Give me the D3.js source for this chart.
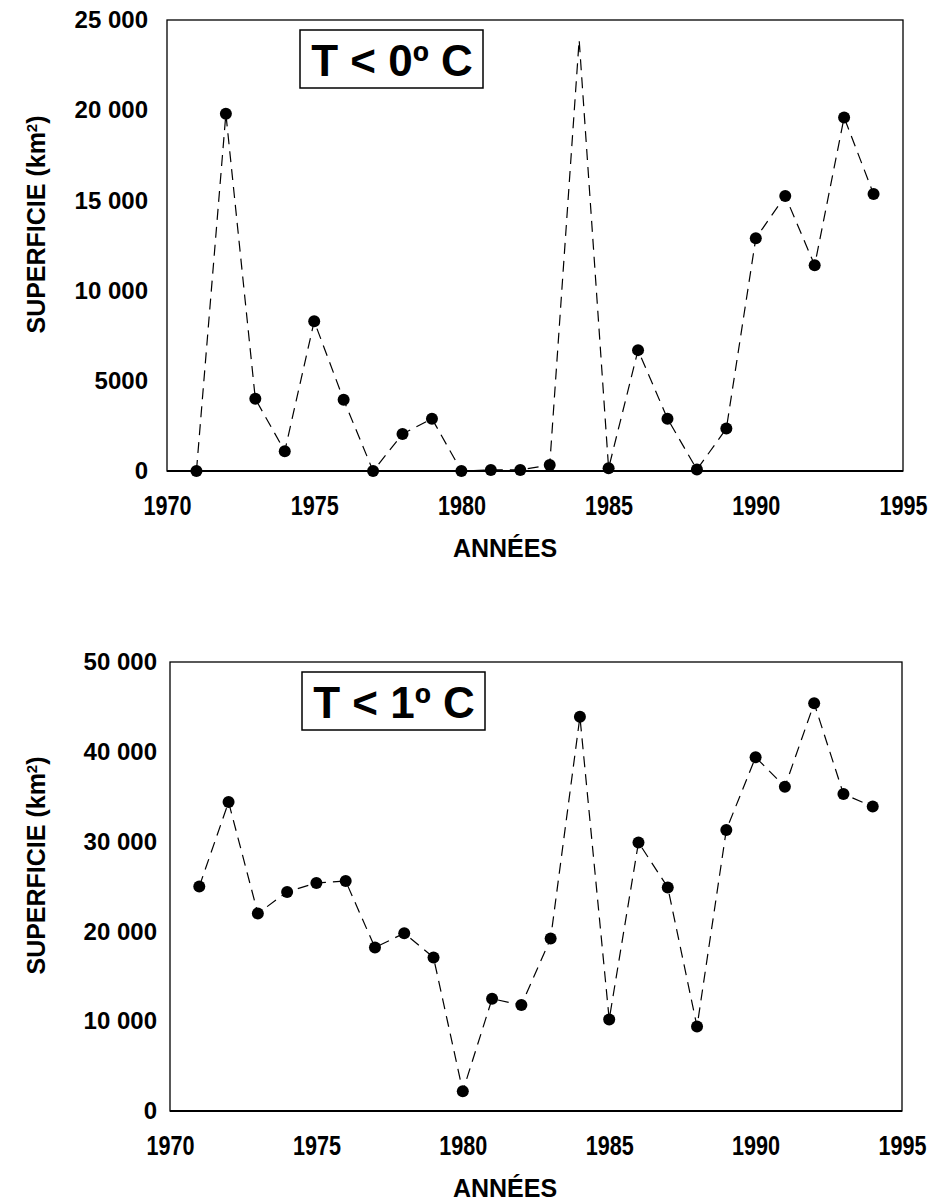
<!DOCTYPE html>
<html>
<head>
  <meta charset="utf-8">
  <title>Superficie</title>
  <script src="https://d3js.org/d3.v7.min.js"></script>
  <style>
    body { margin: 0; background: #fff; }
    text { font-family: "Liberation Sans", Arial, sans-serif; font-weight: bold; fill: #000; }
    .line { fill: none; stroke: #000; stroke-width: 1.2; stroke-dasharray: 11 7; }
  </style>
</head>
<body>
  <svg width="930" height="1204"></svg>
  <script>
    var years = [1971, 1972, 1973, 1974, 1975, 1976, 1977, 1978, 1979, 1980, 1981, 1982,
                 1983, 1984, 1985, 1986, 1987, 1988, 1989, 1990, 1991, 1992, 1993, 1994];

    // surface (km2) with T < 0 C
    var below0 = [0, 19800, 4000, 1100, 8300, 3950, 0, 2050, 2900, 0, 60, 60,
                  330, 23900, 150, 6700, 2900, 80, 2350, 12900, 15250, 11400, 19600, 15350];
    var below0NoMarker = [1984];

    // surface (km2) with T < 1 C
    var below1 = [25000, 34400, 22000, 24400, 25400, 25600, 18200, 19800, 17100, 2200, 12500, 11800,
                  19200, 43900, 10200, 29900, 24900, 9400, 31300, 39400, 36100, 45400, 35300, 33900];

    var xTicks = [1970, 1975, 1980, 1985, 1990, 1995];
    var yTicks0 = [0, 5000, 10000, 15000, 20000, 25000];
    var yTicks1 = [0, 10000, 20000, 30000, 40000, 50000];

    var svg = d3.select("svg");

    function fmt(v) {
      // "25 000" style, but 5000 written without a space
      if (v < 10000) return String(v);
      return d3.format(",")(v).replace(/,/g, " ");
    }

    function chart(opt) {
      var g = svg.append("g");
      var x = d3.scaleLinear().domain([1970, 1995]).range([opt.left, opt.right]);
      var y = d3.scaleLinear().domain([0, opt.yMax]).range([opt.bottom, opt.top]);

      // frame
      g.append("rect")
        .attr("x", opt.left).attr("y", opt.top)
        .attr("width", opt.right - opt.left).attr("height", opt.bottom - opt.top)
        .attr("fill", "none").attr("stroke", "#000").attr("stroke-width", 1.3);
      g.append("line")
        .attr("x1", opt.left).attr("x2", opt.right)
        .attr("y1", opt.bottom).attr("y2", opt.bottom)
        .attr("stroke", "#000").attr("stroke-width", 2.2);

      // y axis
      var ya = g.append("g")
        .attr("transform", "translate(" + opt.left + ",0)")
        .call(d3.axisLeft(y).tickValues(opt.yTicks).tickSize(0).tickPadding(opt.yPad).tickFormat(fmt));
      ya.select(".domain").remove();
      ya.selectAll("text").style("font-size", "24px").style("font-family", null);

      // x axis, digits squeezed horizontally like the original
      var xa = g.append("g")
        .attr("transform", "translate(0," + opt.bottom + ")")
        .call(d3.axisBottom(x).tickValues(xTicks).tickSize(0).tickPadding(25).tickFormat(d3.format("d")));
      xa.select(".domain").remove();
      xa.selectAll("text")
        .style("font-size", "27px")
        .style("font-family", null)
        .attr("transform", "scale(0.8,1)");

      // axis titles
      g.append("text")
        .attr("x", 505)
        .attr("y", opt.bottom + 86)
        .attr("text-anchor", "middle")
        .style("font-size", "25px")
        .text("ANNÉES");

      var yt = g.append("text")
        .attr("transform", "translate(45," + ((opt.top + opt.bottom) / 2 - 21) + ") rotate(-90)")
        .attr("text-anchor", "middle")
        .style("font-size", "25px");
      yt.append("tspan").text("SUPERFICIE (km");
      yt.append("tspan").attr("baseline-shift", "super").style("font-size", "15px").text("2");
      yt.append("tspan").text(")");

      // label box
      g.append("rect")
        .attr("x", opt.boxX).attr("y", opt.boxY)
        .attr("width", 183).attr("height", 58)
        .attr("fill", "#fff").attr("stroke", "#000").attr("stroke-width", 1.5);
      g.append("text")
        .attr("x", opt.boxX + 92).attr("y", opt.boxY + 46)
        .attr("text-anchor", "middle")
        .style("font-size", "44px")
        .text(opt.label);

      var pts = years.map(function(d, i) { return [d, opt.values[i]]; });

      var line = d3.line()
        .x(function(d) { return x(d[0]); })
        .y(function(d) { return y(d[1]); });

      g.append("path").datum(pts).attr("class", "line").attr("d", line);

      g.selectAll(".dot")
        .data(pts.filter(function(d) { return opt.noMarker.indexOf(d[0]) < 0; }))
        .enter().append("circle")
        .attr("class", "dot")
        .attr("cx", function(d) { return x(d[0]); })
        .attr("cy", function(d) { return y(d[1]); })
        .attr("r", 6)
        .attr("fill", "#000");
    }

    chart({
      values: below0, noMarker: below0NoMarker, yMax: 25000, yTicks: yTicks0,
      left: 167, right: 903, top: 20, bottom: 471, yPad: 19,
      boxX: 300, boxY: 30, label: "T < 0º C"
    });

    chart({
      values: below1, noMarker: [], yMax: 50000, yTicks: yTicks1,
      left: 170, right: 902, top: 662, bottom: 1111, yPad: 13,
      boxX: 302, boxY: 672, label: "T < 1º C"
    });
  </script>
</body>
</html>
